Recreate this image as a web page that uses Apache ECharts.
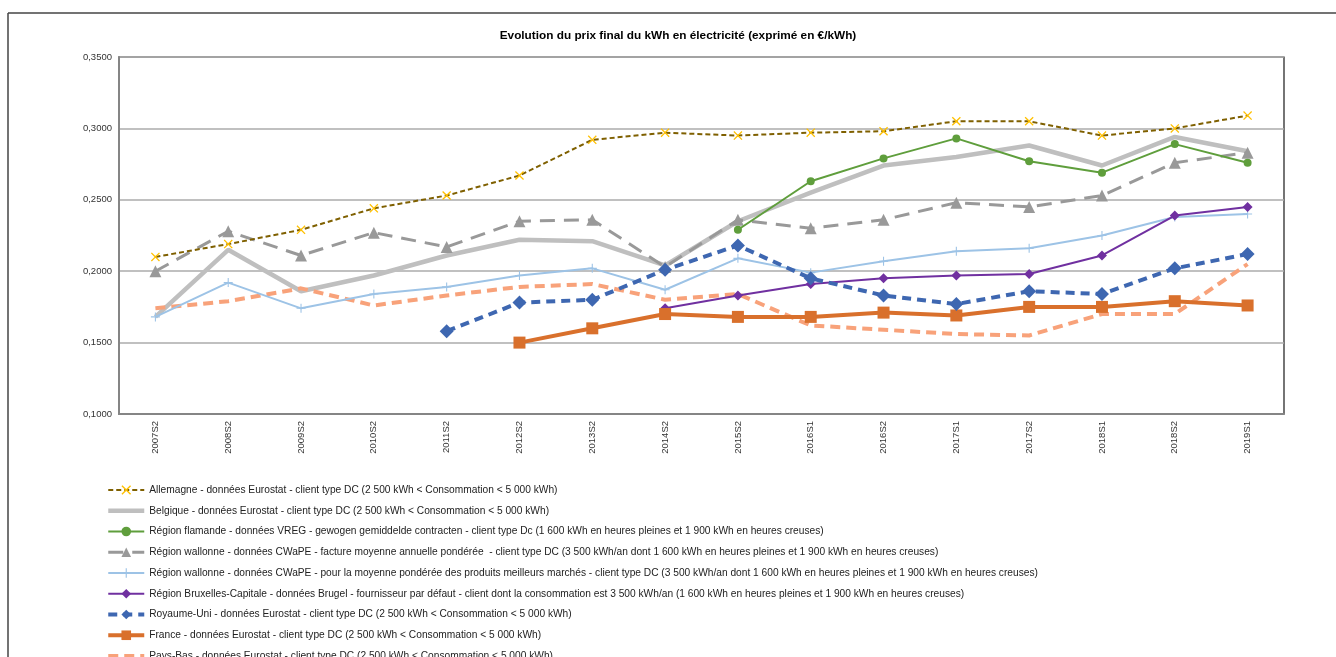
<!DOCTYPE html>
<html>
<head>
<meta charset="utf-8">
<script src="https://cdn.jsdelivr.net/npm/echarts@6/dist/echarts.min.js"></script>
<style>
  html, body { margin: 0; padding: 0; background: #fff; }
  #chart { width: 1336px; height: 657px; }
</style>
</head>
<body>
<div id="chart"></div>
<script>
// Semesters on the category axis
const periods = ['2007S2', '2008S2', '2009S2', '2010S2', '2011S2', '2012S2', '2013S2', '2014S2',
  '2015S2', '2016S1', '2016S2', '2017S1', '2017S2', '2018S1', '2018S2', '2019S1'];

// Final price per kWh (€/kWh), one array per source
const allemagne = [0.210, 0.219, 0.229, 0.244, 0.253, 0.267, 0.292, 0.297, 0.295, 0.297, 0.298, 0.305, 0.305, 0.295, 0.300, 0.309];
const belgique = [0.168, 0.215, 0.186, 0.197, 0.211, 0.222, 0.221, 0.204, 0.235, 0.255, 0.274, 0.280, 0.288, 0.274, 0.294, 0.284];
const flamande = [null, null, null, null, null, null, null, null, 0.229, 0.263, 0.279, 0.293, 0.277, 0.269, 0.289, 0.276];
const wallonneFacture = [0.200, 0.228, 0.211, 0.227, 0.217, 0.235, 0.236, 0.203, 0.236, 0.230, 0.236, 0.248, 0.245, 0.253, 0.276, 0.283];
const wallonneMeilleurs = [0.168, 0.192, 0.174, 0.184, 0.189, 0.197, 0.202, 0.187, 0.209, 0.199, 0.207, 0.214, 0.216, 0.225, 0.238, 0.240];
const bruxelles = [null, null, null, null, null, null, null, 0.174, 0.183, 0.191, 0.195, 0.197, 0.198, 0.211, 0.239, 0.245];
const royaumeUni = [null, null, null, null, 0.158, 0.178, 0.180, 0.201, 0.218, 0.195, 0.183, 0.177, 0.186, 0.184, 0.202, 0.212];
const france = [null, null, null, null, null, 0.150, 0.160, 0.170, 0.168, 0.168, 0.171, 0.169, 0.175, 0.175, 0.179, 0.176];
const paysBas = [0.174, 0.179, 0.188, 0.176, 0.183, 0.189, 0.191, 0.180, 0.184, 0.162, 0.159, 0.156, 0.155, 0.170, 0.170, 0.205];

// Series names shown in the legend
const names = [
  'Allemagne - données Eurostat - client type DC (2 500 kWh < Consommation < 5 000 kWh)',
  'Belgique - données Eurostat - client type DC (2 500 kWh < Consommation < 5 000 kWh)',
  'Région flamande - données VREG - gewogen gemiddelde contracten - client type Dc (1 600 kWh en heures pleines et 1 900 kWh en heures creuses)',
  'Région wallonne - données CWaPE - facture moyenne annuelle pondérée  - client type DC (3 500 kWh/an dont 1 600 kWh en heures pleines et 1 900 kWh en heures creuses)',
  'Région wallonne - données CWaPE - pour la moyenne pondérée des produits meilleurs marchés - client type DC (3 500 kWh/an dont 1 600 kWh en heures pleines et 1 900 kWh en heures creuses)',
  'Région Bruxelles-Capitale - données Brugel - fournisseur par défaut - client dont la consommation est 3 500 kWh/an (1 600 kWh en heures pleines et 1 900 kWh en heures creuses)',
  'Royaume-Uni - données Eurostat - client type DC (2 500 kWh < Consommation < 5 000 kWh)',
  'France - données Eurostat - client type DC (2 500 kWh < Consommation < 5 000 kWh)',
  'Pays-Bas - données Eurostat - client type DC (2 500 kWh < Consommation < 5 000 kWh)'
];

// Y axis range and step
const yMin = 0.10, yMax = 0.35, yStep = 0.05;

const FONT = '"Liberation Sans", Arial, sans-serif';
const crossPath = 'path://M0,1 L1,0 L5,4 L9,0 L10,1 L6,5 L10,9 L9,10 L5,6 L1,10 L0,9 L4,5 Z';
const plusPath = 'path://M4.4,0 L5.6,0 L5.6,4.4 L10,4.4 L10,5.6 L5.6,5.6 L5.6,10 L4.4,10 L4.4,5.6 L0,5.6 L0,4.4 L4.4,4.4 Z';

function line(name, data, color, width, type, symbol, symbolSize, symbolColor, z) {
  return {
    name, type: 'line', data,
    z: z || 2,
    symbol: symbol || 'none',
    symbolSize: symbolSize || 0,
    showSymbol: !!symbol,
    itemStyle: { color: symbolColor || color, borderWidth: 0 },
    lineStyle: { color, width, type: type || 'solid', cap: 'butt' },
    emphasis: { disabled: true },
    animation: false
  };
}

const series = [
  line(names[0], allemagne, '#7f6000', 2, [5, 3], crossPath, 9, '#ffc000', 9),
  line(names[1], belgique, '#bfbfbf', 4.5, 'solid', null, 0, null, 3),
  line(names[2], flamande, '#5f9e3c', 2, 'solid', 'circle', 8, null, 6),
  line(names[3], wallonneFacture, '#999999', 3, [15, 9], 'triangle', 12, null, 4),
  line(names[4], wallonneMeilleurs, '#9dc3e6', 2, 'solid', plusPath, 9, null, 5),
  line(names[5], bruxelles, '#7030a0', 2, 'solid', 'diamond', 10, null, 7),
  line(names[6], royaumeUni, '#3e67b1', 4, [9, 6], 'diamond', 14, null, 8),
  line(names[7], france, '#d9702c', 4, 'solid', 'rect', 12, null, 7),
  line(names[8], paysBas, '#f8a27a', 4, [10, 6], null, 0, null, 3)
];

// Legend keys reuse each series' stroke; series without markers show a bare line
const legendData = series.map(s => ({
  name: s.name,
  lineStyle: { width: s.lineStyle.width, type: s.lineStyle.type, color: s.lineStyle.color },
  itemStyle: s.symbol === 'none' ? { opacity: 0 } : { color: s.itemStyle.color }
}));

const chart = echarts.init(document.getElementById('chart'), null, { renderer: 'canvas' });
chart.setOption({
  backgroundColor: '#ffffff',
  animation: false,
  title: {
    text: 'Evolution du prix final du kWh en électricité (exprimé en €/kWh)',
    left: 673, top: 25, textAlign: 'center',
    textStyle: { fontFamily: FONT, fontSize: 11.8, fontWeight: 'bold', color: '#000' }
  },
  graphic: [
    { type: 'line', shape: { x1: 8, y1: 13, x2: 1336, y2: 13 }, style: { stroke: '#444', lineWidth: 1.5 } },
    { type: 'line', shape: { x1: 8, y1: 13, x2: 8, y2: 657 }, style: { stroke: '#444', lineWidth: 1.5 } }
  ],
  grid: {
    left: 119, right: 52, top: 57, bottom: 243,
    show: true, borderColor: '#1a1a1a', borderWidth: 1.2, backgroundColor: 'transparent'
  },
  legend: {
    orient: 'vertical', left: 106, top: 484, height: 400, padding: 0,
    itemWidth: 36, itemHeight: 12, itemGap: 8.75,
    selectedMode: false,
    textStyle: { fontFamily: FONT, fontSize: 10.2, color: '#222', lineHeight: 12 },
    data: legendData
  },
  xAxis: {
    type: 'category', data: periods, boundaryGap: true,
    axisLine: { lineStyle: { color: '#858585', width: 2 } },
    axisTick: { show: false },
    axisLabel: { rotate: 90, margin: 7, fontFamily: FONT, fontSize: 9.5, color: '#333', interval: 0 }
  },
  yAxis: {
    type: 'value', min: yMin, max: yMax, interval: yStep,
    axisLine: { show: true, lineStyle: { color: '#858585', width: 2 } },
    axisTick: { show: false },
    splitLine: { lineStyle: { color: '#ababab', width: 1.5 } },
    axisLabel: {
      margin: 7, fontFamily: FONT, fontSize: 9.5, color: '#333',
      formatter: v => v.toFixed(4).replace('.', ',')
    }
  },
  series
});
</script>
</body>
</html>
